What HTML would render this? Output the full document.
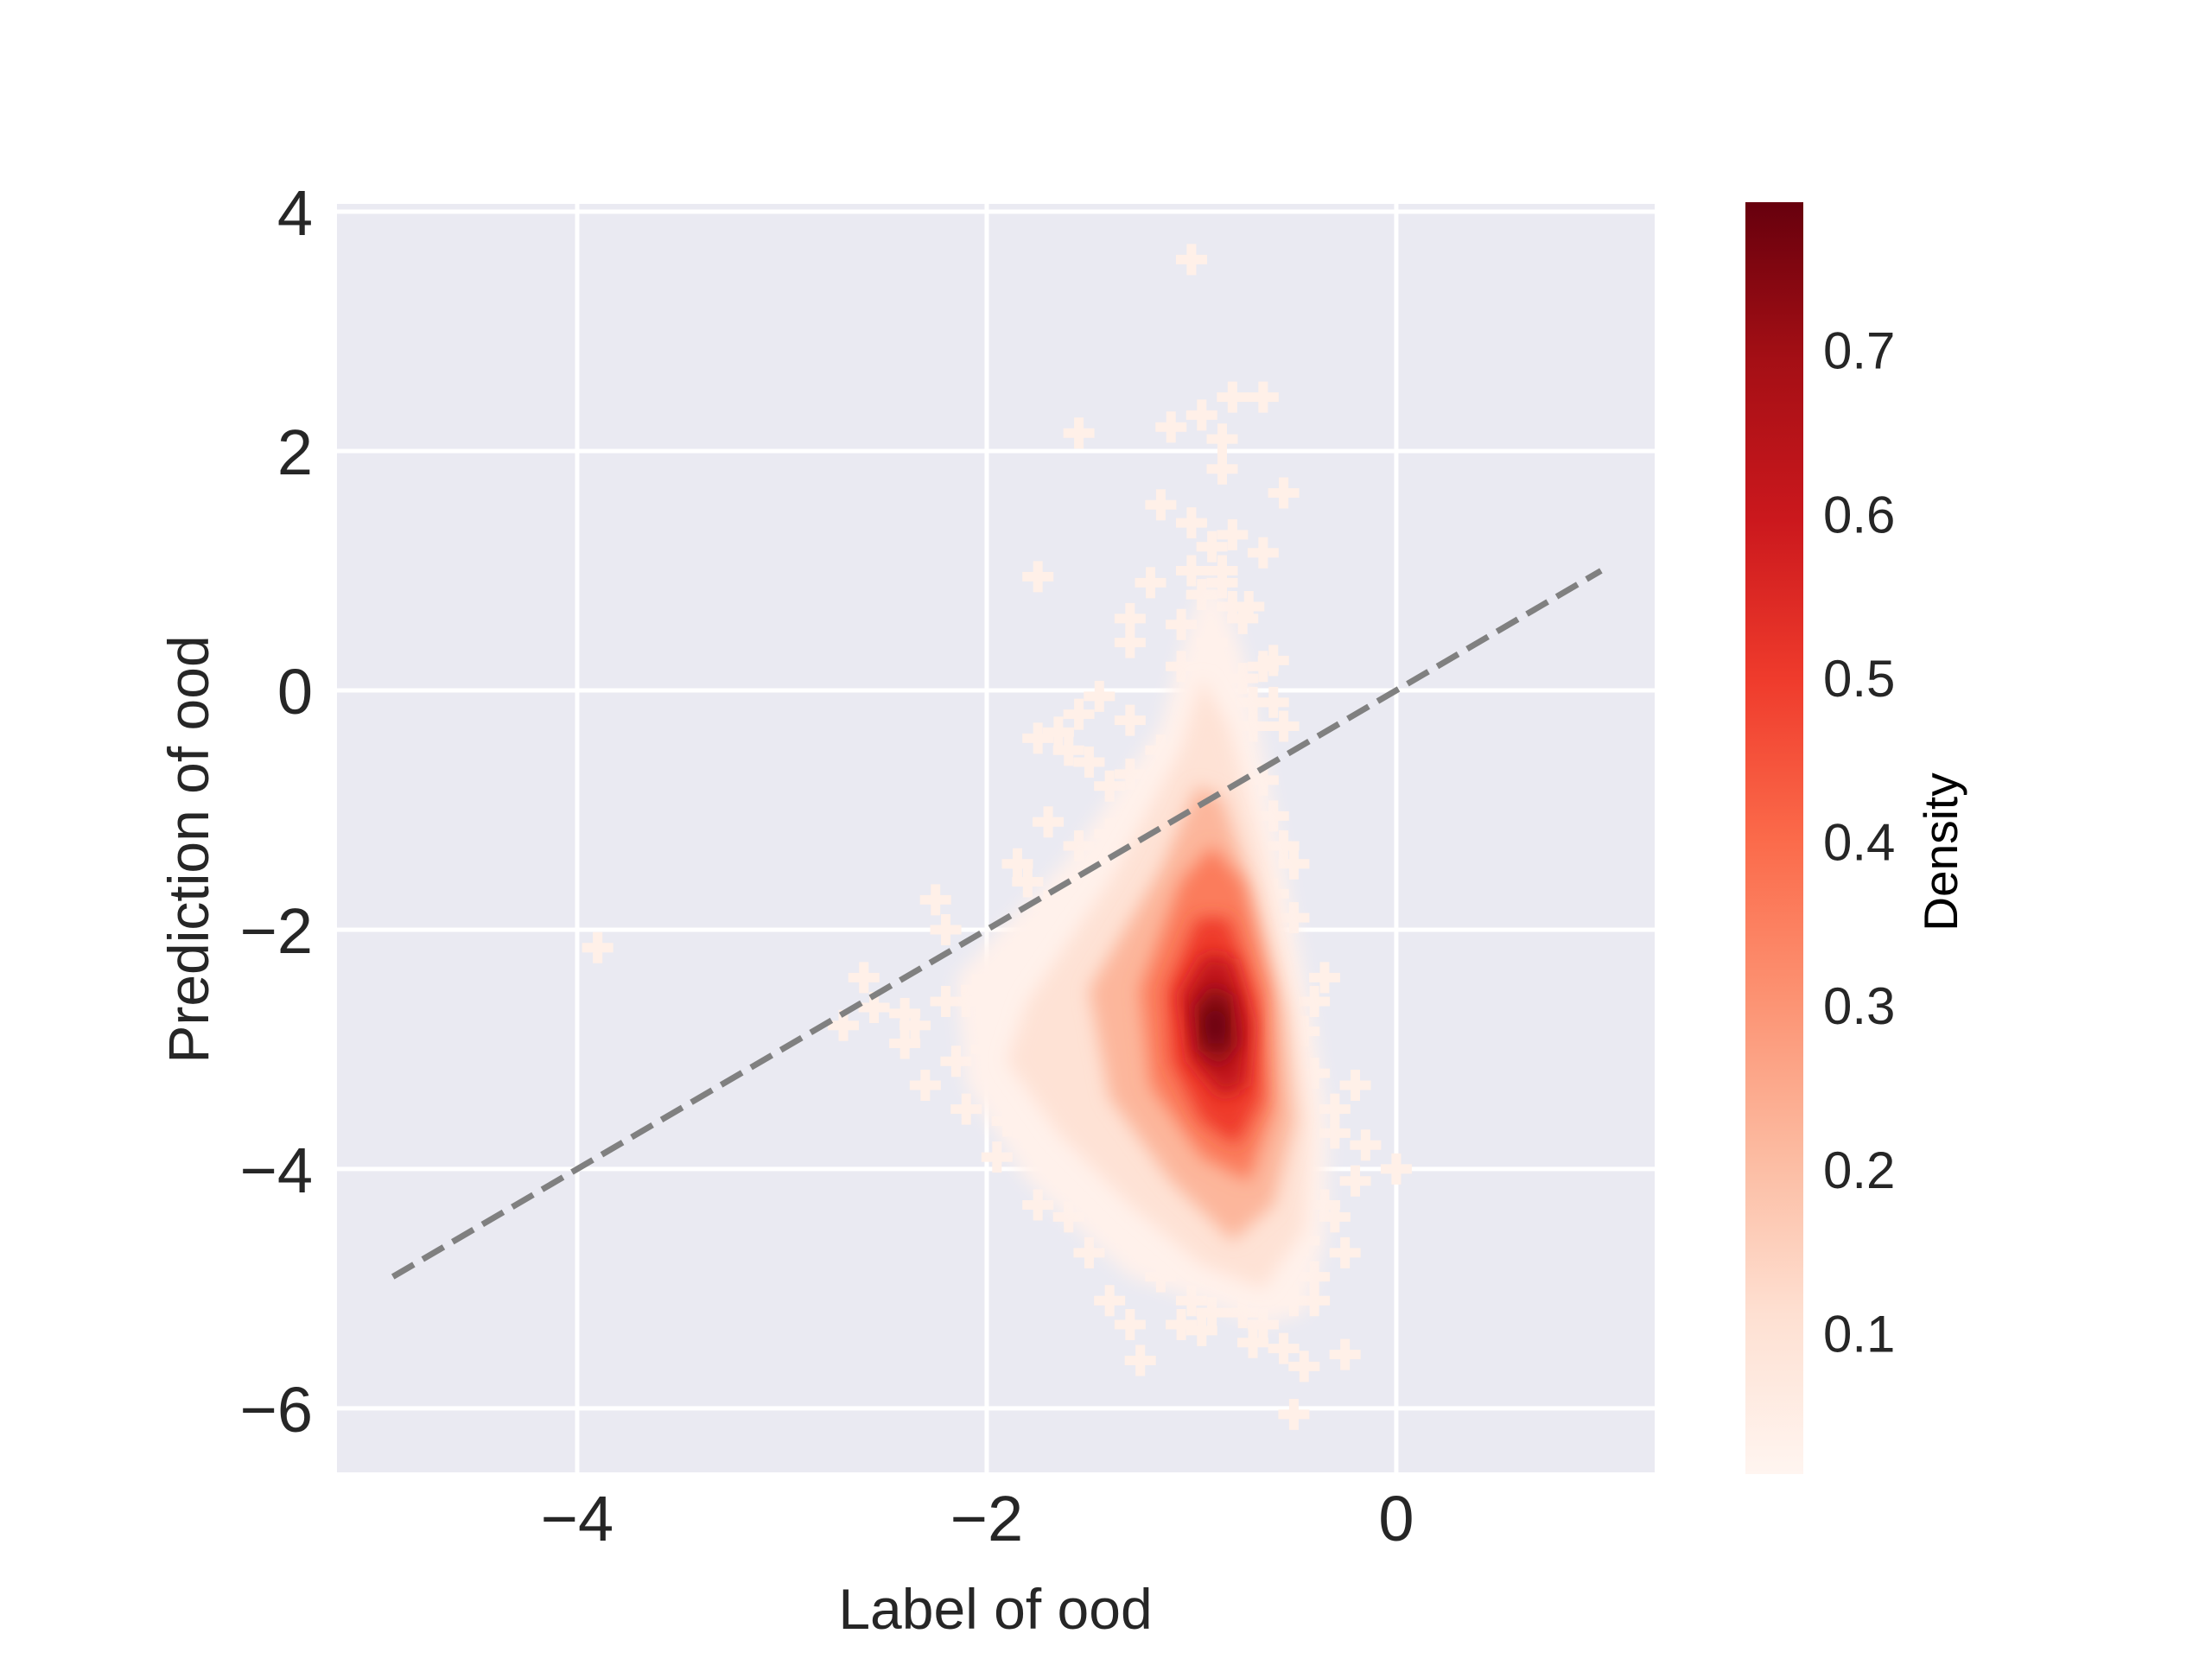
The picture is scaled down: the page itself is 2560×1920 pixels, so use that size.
<!DOCTYPE html>
<html><head><meta charset="utf-8"><style>
html,body{margin:0;padding:0;background:#fff;}
svg{display:block;font-family:"Liberation Sans",Arial,sans-serif;}
</style></head><body>
<svg id="chart" width="2560" height="1920" viewBox="0 0 2560 1920" xmlns="http://www.w3.org/2000/svg">
<defs>
<linearGradient id="cbgrad" x1="0" y1="1" x2="0" y2="0">
<stop offset="0" stop-color="#fff5f0"/><stop offset="0.125" stop-color="#fee0d2"/><stop offset="0.25" stop-color="#fcbba1"/><stop offset="0.375" stop-color="#fc9272"/><stop offset="0.5" stop-color="#fb6a4a"/><stop offset="0.625" stop-color="#ef3b2c"/><stop offset="0.75" stop-color="#cb181d"/><stop offset="0.875" stop-color="#a50f15"/><stop offset="1" stop-color="#67000d"/>
</linearGradient>
<filter id="blur" x="-20%" y="-20%" width="140%" height="140%"><feGaussianBlur stdDeviation="10"/></filter>
<clipPath id="plotclip"><rect x="390" y="236" width="1525" height="1468"/></clipPath>
</defs>
<rect x="390" y="236" width="1525" height="1468" fill="#eaeaf2"/>
<g id="grid"></g>
<g id="points" clip-path="url(#plotclip)"></g>
<g id="density" clip-path="url(#plotclip)"></g>
<line id="diag" stroke="#808080" stroke-width="7" stroke-dasharray="28,12"/>
<g id="xticks"></g>
<g id="yticks"></g>
<text x="1152" y="1885" font-size="66" fill="#262626" text-anchor="middle">Label of ood</text>
<text x="0" y="0" font-size="66" fill="#262626" text-anchor="middle" transform="translate(241,983) rotate(-90)">Prediction of ood</text>
<rect x="2020" y="234" width="67" height="1472" fill="url(#cbgrad)"/>
<g id="cbticks"></g>
<text x="0" y="0" font-size="55" fill="#000" text-anchor="middle" transform="translate(2265,986) rotate(-90)">Density</text>
</svg>
<script>
const xTicks = [-4, -2, 0];
const yTicks = [4, 2, 0, -2, -4, -6];
const cbTicks = [0.1, 0.2, 0.3, 0.4, 0.5, 0.6, 0.7];
const levelValues = [0.03, 0.1, 0.22, 0.36, 0.5, 0.62, 0.73, 0.79];
const levelXs = [
 [-2.15,-1.6,-1.15,-1.0,-0.9,-0.75,-0.6,-0.45,-0.33,-0.35,-0.45,-0.65,-0.95,-1.3,-1.8,-2.1],
 [-1.8,-1.4,-1.05,-0.95,-0.82,-0.65,-0.5,-0.42,-0.45,-0.65,-0.95,-1.3,-1.65,-1.9],
 [-1.5,-1.15,-0.97,-0.85,-0.7,-0.55,-0.5,-0.6,-0.8,-1.1,-1.4],
 [-1.25,-1.05,-0.9,-0.75,-0.62,-0.6,-0.72,-0.95,-1.2],
 [-1.12,-0.97,-0.82,-0.68,-0.66,-0.78,-0.95,-1.1],
 [-1.05,-0.93,-0.8,-0.71,-0.74,-0.85,-1.0],
 [-0.99,-0.9,-0.8,-0.77,-0.86,-0.97],
 [-0.94,-0.88,-0.83,-0.84,-0.92]
];
const levelYs = [
 [-2.4,-1.4,-0.3,0.6,1.0,0.3,-1.0,-2.4,-3.6,-4.6,-5.2,-5.3,-5.1,-4.9,-4.1,-3.3],
 [-2.6,-1.6,-0.5,0.1,-0.3,-1.4,-2.6,-3.6,-4.5,-5.0,-4.8,-4.3,-3.7,-3.1],
 [-2.5,-1.5,-0.8,-0.9,-1.7,-2.7,-3.6,-4.3,-4.6,-4.1,-3.4],
 [-2.5,-1.6,-1.3,-1.6,-2.5,-3.5,-4.1,-3.9,-3.3],
 [-2.5,-1.9,-1.9,-2.6,-3.4,-3.8,-3.6,-3.1],
 [-2.55,-2.2,-2.25,-2.8,-3.3,-3.4,-3.1],
 [-2.65,-2.45,-2.55,-2.95,-3.15,-3.0],
 [-2.75,-2.6,-2.75,-2.95,-2.95]
];
const ptX = [-1.0,-1.55,-1.1,-0.95,-0.8,-0.65,-0.85,-0.55,-0.85,-1.15,-1.0,-0.8,-0.65,-1.75,-1.2,-1.0,-0.85,-1.3,-1.05,-0.75,-1.3,-0.65,-1.45,-1.55,-1.65,-1.75,-1.3,-0.6,-0.55,-1.5,-1.3,-1.7,-1.55,-0.6,-0.55,-0.5,-1.85,-2.25,-2.2,-3.9,-2.6,-2.55,-2.4,-2.4,-2.15,-2.3,-2.1,-2.7,-0.35,-0.4,-0.45,-0.2,-0.15,0.0,-0.3,-0.2,-0.25,-1.95,-1.75,-1.5,-1.4,-1.3,-1.25,-1.05,-0.95,-0.75,-0.65,-0.55,-0.45,-0.5,-0.4,-0.25,-0.5,-0.7,-0.8,-1.15,-1.6,-1.9,-2.0,-2.1,-1.7,-1.4,-1.15,-0.7,-0.65,-0.5,-0.4,-0.3,-0.6,-0.72,-1.2,-1.35,-1.6,-1.85,
 -0.9,-0.85,-0.95,-0.8,-0.9,-0.75,-1.05,-0.7,-0.9,-0.82,-1.1,-1.2,-1.4,-1.6,-1.8,-1.25,-1.1,-1.45,-2.05,-2.2,-2.35,-1.95,-1.8,-1.65,-1.4,-1.2,-1.0,-0.6,-0.55,-0.45,-0.35,-0.3,-0.4,-0.5,-0.6,-0.75,-0.9,-1.0,-1.2,-1.35,-1.5,-1.7];
const ptY = [3.6,2.15,2.2,2.3,2.45,2.45,2.1,1.65,1.85,1.55,1.4,1.3,1.15,0.95,0.9,1.0,0.9,0.6,0.55,0.6,0.4,0.2,-0.05,-0.2,-0.35,-0.4,-0.25,-0.1,-0.3,-0.6,-0.7,-1.1,-1.3,-1.05,-1.3,-1.45,-1.45,-1.75,-2.0,-2.15,-2.4,-2.65,-2.7,-2.95,-3.1,-3.3,-3.5,-2.8,-2.4,-2.6,-2.85,-3.3,-3.8,-4.0,-3.7,-4.1,-4.7,-3.9,-4.3,-4.7,-5.1,-5.3,-5.6,-5.3,-5.35,-5.2,-5.3,-5.5,-5.65,-5.1,-5.1,-5.55,-6.05,-5.45,-4.9,-4.9,-4.4,-3.6,-3.0,-2.6,-1.8,-1.2,-0.5,-0.3,-0.75,-4.4,-4.9,-4.4,0.25,0.7,-1.45,-2.05,-2.5,-3.2,
 1.2,1.0,0.8,0.7,0.4,0.1,0.2,-0.1,-0.3,-0.6,-0.9,-1.1,-0.8,-0.5,-1.6,-1.9,-2.2,-2.3,-2.5,-2.6,-2.8,-3.2,-3.7,-4.0,-4.4,-4.6,-4.8,-5.0,-4.8,-4.6,-4.3,-3.5,-3.2,-1.9,-1.7,-5.0,-5.2,-5.1,-4.6,-4.4,-4.2,-3.8];
const lineX = [-4.9, 1.0];
const lineY = [-4.9, 1.0];

const X0=-5.173, X1=1.262, Y0=-6.535, Y1=4.065;
const PL=390, PR=1915, PT=236, PB=1704;
function sx(v){return PL+(v-X0)/(X1-X0)*(PR-PL);}
function sy(v){return PB-(v-Y0)/(Y1-Y0)*(PB-PT);}
const CB0=0.0138, CB1=0.790, CBT=234, CBB=1706;
function cy(v){return CBB-(v-CB0)/(CB1-CB0)*(CBB-CBT);}
const stops=[[255,245,240],[254,224,210],[252,187,161],[252,146,114],[251,106,74],[239,59,44],[203,24,29],[165,15,21],[103,0,13]];
function cmap(v){let t=Math.max(0,Math.min(1,(v-CB0)/(CB1-CB0)))*8;let i=Math.min(7,Math.floor(t)),f=t-i;
 const c=stops[i].map((a,k)=>Math.round(a+(stops[i+1][k]-a)*f));return `rgb(${c[0]},${c[1]},${c[2]})`;}
const NS="http://www.w3.org/2000/svg";
function mk(tag,attrs,parent){const e=document.createElementNS(NS,tag);for(const k in attrs)e.setAttribute(k,attrs[k]);parent.appendChild(e);return e;}

const grid=document.getElementById('grid');
xTicks.forEach(t=>{const l=mk('line',{x1:sx(t),x2:sx(t),y1:PT,y2:PB,stroke:'#fff','stroke-width':5},grid);

});
yTicks.forEach(t=>{const l=mk('line',{x1:PL,x2:PR,y1:sy(t),y2:sy(t),stroke:'#fff','stroke-width':5},grid);

});

const pg=document.getElementById('points');
ptX.forEach((x,i)=>{
 const X=sx(x),Y=sy(ptY[i]);
 const p=mk('path',{d:`M${X-18},${Y}H${X+18}M${X},${Y-18}V${Y+18}`,stroke:'#fff0e8','stroke-width':11,fill:'none'},pg);
 
 
});

const dens=document.getElementById('density');
levelValues.forEach((v,i)=>{
 const pts=levelXs[i].map((x,j)=>sx(x)+','+sy(levelYs[i][j])).join(' ');
 const p=mk('polygon',{points:pts,fill:cmap(v),filter:'url(#blur)','stroke-linejoin':'round'},dens);
 
 
});

const d=document.getElementById('diag');
d.setAttribute('x1',sx(lineX[0]));d.setAttribute('y1',sy(lineY[0]));
d.setAttribute('x2',sx(lineX[1]));d.setAttribute('y2',sy(lineY[1]));

const xt=document.getElementById('xticks');
xTicks.forEach(t=>{const e=mk('text',{x:sx(t),y:1783,'font-size':74,fill:'#262626','text-anchor':'middle'},xt);
e.textContent=t<0?'\u2212'+Math.abs(t):String(t);

});
const yt=document.getElementById('yticks');
yTicks.forEach(t=>{const e=mk('text',{x:362,y:sy(t)+27,'font-size':74,fill:'#262626','text-anchor':'end'},yt);
e.textContent=t<0?'\u2212'+Math.abs(t):String(t);

});
const cbt=document.getElementById('cbticks');
cbTicks.forEach(t=>{const e=mk('text',{x:2110,y:cy(t)+22,'font-size':60,fill:'#262626'},cbt);
e.textContent=t.toFixed(1);

});
</script>
</body></html>
